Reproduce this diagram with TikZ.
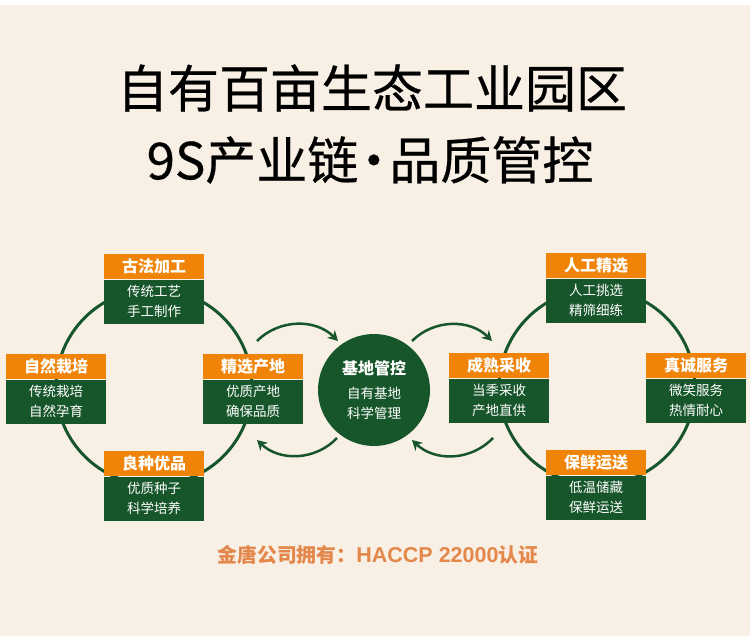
\documentclass[tikz,border=0pt]{standalone}
\usepackage{fontspec}
\setmainfont{Noto Sans CJK SC}
\newfontfamily\titlefont{Noto Sans CJK SC}[FakeBold=0.5]
\newfontfamily\latinfont{Liberation Sans}
\usetikzlibrary{arrows.meta}
\definecolor{bg}{HTML}{F8EFE5}
\definecolor{org}{HTML}{EF8409}
\definecolor{grn}{HTML}{17562A}
\definecolor{note}{HTML}{E3874A}
\newcommand\mycard[6]{%
  \node[hdr, anchor=north] (#1h) at (#2,#3) {#4};
  \node[bdy, anchor=north] (#1b) at (#1h.south) {#5\\#6};
}
\begin{document}
\begin{tikzpicture}[x=1pt,y=-1pt,
  hdr/.style={rectangle, fill=org, minimum width=100pt, minimum height=25pt, inner sep=0pt, text=white, font=\bfseries\fontsize{16}{18}\selectfont},
  bdy/.style={rectangle, fill=grn, minimum width=100pt, minimum height=44pt, inner sep=0pt, text=white, align=center, font=\fontsize{13.5}{20}\selectfont},
  ring/.style={circle, draw=grn, line width=3pt, minimum size=196pt, inner sep=0pt},
  hub/.style={circle, fill=grn, minimum size=112pt, inner sep=0pt, text=white, align=center, font=\fontsize{13.5}{20}\selectfont},
  flow/.style={draw=grn, line width=2.5pt, -{Stealth[length=10pt,width=11pt]}, bend left=45},
  title/.style={font=\titlefont\fontsize{51}{60}\selectfont, text=black},
  note/.style={font=\bfseries\fontsize{19.8}{22}\selectfont, text=note}
]
\fill[white] (0,0) rectangle (750,636);
\fill[bg] (0,5) rectangle (750,636);
\useasboundingbox (0,0) rectangle (750,636);

\node[title] (t1) at (372,88) {自有百亩生态工业园区};
\node[title] (t2) at (370,160) {9S产业链\kern-10pt·\kern-10pt品质管控};

% rings
\node[ring] (L) at (154,387) {};
\node[ring] (R) at (597,387) {};

% left cards
\mycard{ga}{154}{254}{古法加工}{传统工艺}{手工制作}
\mycard{zr}{56}{354}{自然栽培}{传统栽培}{自然孕育}
\mycard{jx}{253}{354}{精选产地}{优质产地}{确保品质}
\mycard{lz}{154}{451}{良种优品}{优质种子}{科学培养}

% right cards
\mycard{rg}{596}{253}{人工精选}{人工挑选}{精筛细练}
\mycard{cs}{499}{353}{成熟采收}{当季采收}{产地直供}
\mycard{zc}{696}{353}{真诚服务}{微笑服务}{热情耐心}
\mycard{bx}{596}{450}{保鲜运送}{低温储藏}{保鲜运送}

% hub
\node[hub] (H) at (374,390) {\textbf{\fontsize{16}{18}\selectfont 基地管控}\\[4pt]自有基地\\科学管理};

% arrows
\coordinate (a1s) at (257,341);
\coordinate (a1e) at (338,341);
\coordinate (a2s) at (337,438);
\coordinate (a2e) at (257,440);
\coordinate (a3s) at (412,341);
\coordinate (a3e) at (492,341);
\coordinate (a4s) at (493,438);
\coordinate (a4e) at (412,440);
\draw[flow] (a1s) to (a1e);
\draw[flow] (a2s) to (a2e);
\draw[flow] (a3s) to (a3e);
\draw[flow] (a4s) to (a4e);

\node[note] (n) at (378,555) {金唐公司拥有：{\latinfont\bfseries\fontsize{21.5}{22}\selectfont HACCP 22000}认证};
\end{tikzpicture}
\end{document}
